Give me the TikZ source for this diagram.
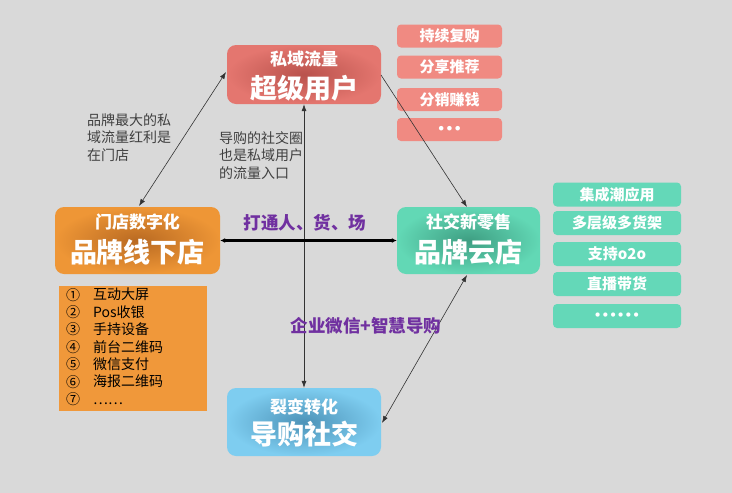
\documentclass[tikz,border=0pt]{standalone}
\usepackage{fontspec}
\setmainfont{Noto Sans CJK SC}
\newfontfamily\dotfont{DejaVu Sans}
\usetikzlibrary{arrows.meta}
\definecolor{bg}{HTML}{D9D9D9}
\definecolor{redE}{HTML}{E4766F}
\definecolor{redC}{HTML}{B9524C}
\definecolor{oraE}{HTML}{EE9636}
\definecolor{oraC}{HTML}{B96A22}
\definecolor{grnE}{HTML}{62D8B5}
\definecolor{grnC}{HTML}{3E9E82}
\definecolor{bluE}{HTML}{7ECDF0}
\definecolor{bluC}{HTML}{4D93B8}
\definecolor{tagred}{HTML}{F08A82}
\definecolor{taggrn}{HTML}{64D8B8}
\definecolor{listora}{HTML}{F0983A}
\definecolor{purp}{HTML}{7030A0}
\definecolor{note}{HTML}{404040}
\tikzset{
  bigbox/.style={rounded corners=9pt, inner sep=0pt},
  subtitle/.style={text=white, font=\fontsize{17}{19}\selectfont\bfseries, inner sep=0pt},
  maintitle/.style={text=white, font=\fontsize{27}{30}\selectfont\bfseries, inner sep=0pt},
  tagbox/.style={rounded corners=4pt, text=white, font=\fontsize{15}{17}\selectfont\bfseries, inner sep=0pt, minimum width=105pt, minimum height=23pt},
  gtagbox/.style={tagbox, fill=taggrn, minimum width=128pt, minimum height=24pt},
  notetext/.style={text=note, align=left, font=\fontsize{14}{17.5}\selectfont, inner sep=0pt, anchor=north west},
  conn/.style={draw=black!80, line width=0.6pt, -{Latex[length=7pt,width=5pt]}},
  conn2/.style={conn, {Latex[length=7pt,width=5pt]}-{Latex[length=7pt,width=5pt]}},
  thickconn/.style={draw=black, line width=2.2pt, {Latex[length=5pt,width=5pt]}-{Latex[length=5pt,width=5pt]}},
  purptext/.style={text=purp, font=\fontsize{17.5}{20}\selectfont\bfseries, inner sep=0pt}
}
\begin{document}
\begin{tikzpicture}[x=1pt,y=-1pt]
\fill[bg] (0,0) rectangle (732,493);
\useasboundingbox (0,0) rectangle (732,493);

% main boxes
\node[bigbox, minimum width=154pt, minimum height=59pt, inner color=redC, outer color=redE] (top) at (304,74.5) {};
\node[subtitle] (topsub) at (304,59) {私域流量};
\node[maintitle] (topmain) at (304,88) {超级用户};
\node[bigbox, minimum width=165pt, minimum height=67pt, inner color=oraC, outer color=oraE] (left) at (137.5,240.5) {};
\node[subtitle] (leftsub) at (137.5,222) {门店数字化};
\node[maintitle] (leftmain) at (137.5,252) {品牌线下店};
\node[bigbox, minimum width=143pt, minimum height=67pt, inner color=grnC, outer color=grnE] (right) at (468.5,240.5) {};
\node[subtitle] (rightsub) at (468.5,222) {社交新零售};
\node[maintitle] (rightmain) at (468.5,252) {品牌云店};
\node[bigbox, minimum width=154pt, minimum height=68pt, inner color=bluC, outer color=bluE] (bottom) at (304,422) {};
\node[subtitle] (botsub) at (304,407) {裂变转化};
\node[maintitle] (botmain) at (304,434) {导购社交};

% red tags
\node[tagbox, fill=tagred] (r1) at (449.5,36) {持续复购};
\node[tagbox, fill=tagred] (r2) at (449.5,67) {分享推荐};
\node[tagbox, fill=tagred] (r3) at (449.5,99.5) {分销赚钱};
\node[tagbox, fill=tagred, font=\dotfont\fontsize{13}{15}\selectfont\bfseries] (r4) at (449.5,129.5) {•••};

% green tags
\node[gtagbox] (g1) at (617,194.5) {集成潮应用};
\node[gtagbox] (g2) at (617,223) {多层级多货架};
\node[gtagbox] (g3) at (617,254) {支持o2o};
\node[gtagbox] (g4) at (617,284) {直播带货};
\node[gtagbox, font=\dotfont\fontsize{12}{15}\selectfont\bfseries] (g5) at (617,316) {••••••};

% orange list
\node[fill=listora, minimum width=148pt, minimum height=125pt, inner sep=0pt] (list) at (133,348.5) {};
\node[anchor=north west, inner sep=0pt, align=left, font=\fontsize{14}{17.4}\selectfont, text=black] (listnum) at (66,288)
  {①\\②\\③\\④\\⑤\\⑥\\⑦};
\node[anchor=north west, inner sep=0pt, align=left, font=\fontsize{14}{17.4}\selectfont, text=black] (listtxt) at (93,288)
  {互动大屏\\Pos收银\\手持设备\\前台二维码\\微信支付\\海报二维码\\……};

% notes
\node[notetext] (n1) at (87,113) {品牌最大的私\\域流量红利是\\在门店};
\node[notetext] (n2) at (219,131) {导购的社交圈\\也是私域用户\\的流量入口};

% connectors
\coordinate (lt) at (139,206);
\coordinate (tl) at (226,72);
\draw[conn2] (lt) -- (tl);
\coordinate (tr) at (381,75);
\coordinate (rt) at (467,207);
\draw[conn] (tr) -- (rt);
\draw[conn2] (top.south) -- (bottom.north);
\draw[thickconn] (left.east) -- (right.east -| right.west);
\coordinate (br) at (382,423);
\coordinate (rb) at (467,275);
\draw[conn2] (br) -- (rb);

% purple labels
\node[purptext] (pl1) at (305,223) {打通人、货、场};
\node[purptext] (pl2) at (366,326) {企业微信+智慧导购};
\end{tikzpicture}
\end{document}
